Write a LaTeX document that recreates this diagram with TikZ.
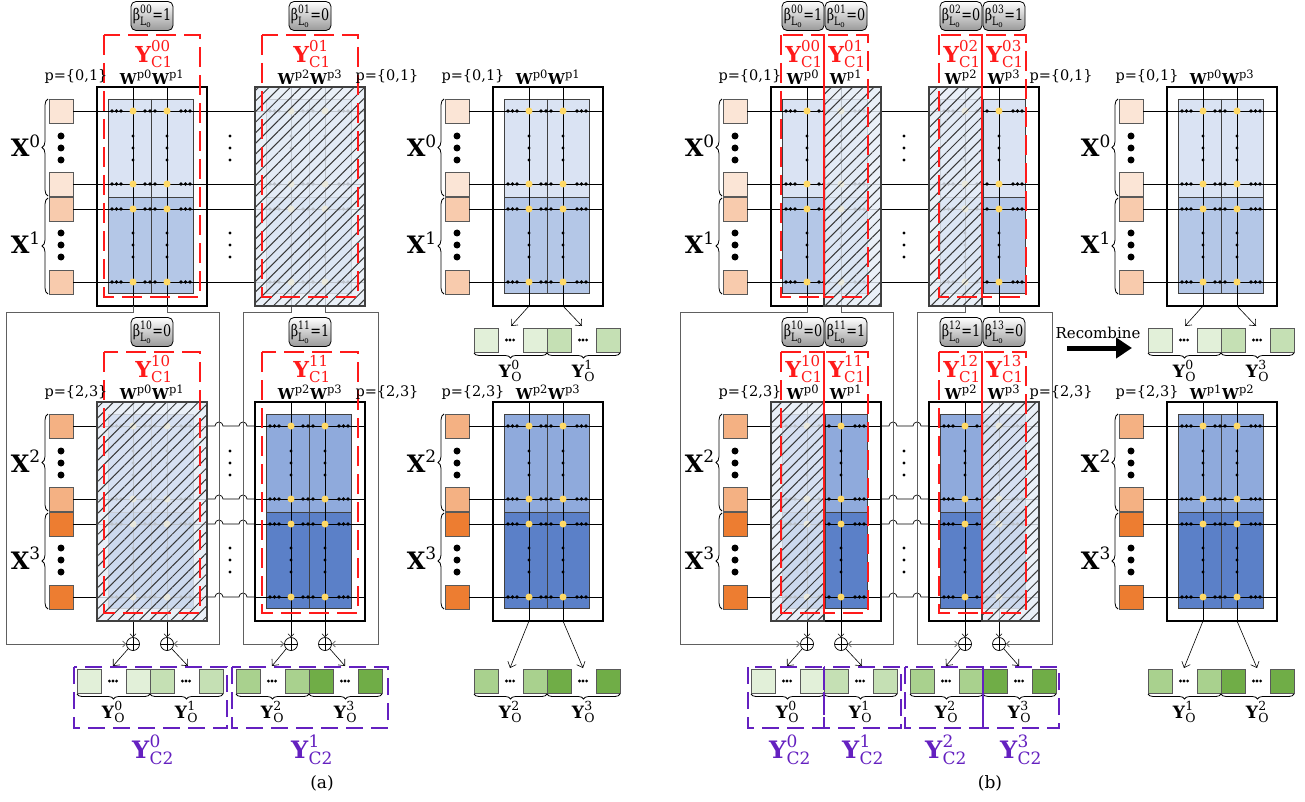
\documentclass[tikz,border=0pt]{standalone}
\usepackage{amsmath}
\usepackage{fontspec}
\setmainfont{DejaVu Serif}
\usetikzlibrary{arrows.meta,patterns.meta,decorations.pathreplacing}
\DeclareMathSizes{15}{15}{11.5}{9}
\DeclareMathSizes{22}{22}{15}{11}
\DeclareMathSizes{17}{17}{12.5}{10}
\DeclareMathSizes{24}{24}{17}{13}
\DeclareMathSizes{16}{16}{11.5}{9}
\definecolor{xa}{HTML}{FBE5D6}
\definecolor{xb}{HTML}{F8CBAD}
\definecolor{xc}{HTML}{F4B183}
\definecolor{xd}{HTML}{ED7D31}
\definecolor{ba}{HTML}{DAE3F3}
\definecolor{bb}{HTML}{B4C7E7}
\definecolor{bc}{HTML}{8FAADC}
\definecolor{bd}{HTML}{5B80C8}
\definecolor{yd}{HTML}{FFD966}
\definecolor{ga}{HTML}{E2F0D9}
\definecolor{gb}{HTML}{C5E0B4}
\definecolor{gc}{HTML}{A9D18E}
\definecolor{gd}{HTML}{70AD47}
\definecolor{rd}{HTML}{FF1A1A}
\definecolor{pu}{HTML}{6420C0}
\definecolor{hb}{HTML}{E6EDF7}
\definecolor{rl}{HTML}{606060}
\newcommand\fs[1]{\fontsize{#1}{#1}\selectfont}
\newcommand\Ylab[2]{$\text{\textbf{Y}}^{\text{#1}}_{\text{#2}}$}
\newcommand\Wlab[1]{$\text{\textbf{W}}^{\text{p#1}}$}
\newcommand\Blab[2]{\scalebox{0.8}[1]{$\text{β}^{\text{#1}}_{\text{L}_{\text{o}}}$=#2}}
\tikzset{
  outer/.style={draw=black, line width=2pt},
  inner/.style={draw=black!75, line width=0.6pt},
  rowl/.style={black, line width=0.7pt},
  coll/.style={black, line width=0.6pt},
  route/.style={rl, line width=0.8pt},
  sq/.style={draw=black!65, line width=0.7pt},
  rdash/.style={draw=rd, line width=2.6pt, dash pattern=on 20pt off 8pt},
  pdash/.style={draw=pu, line width=2.4pt, dash pattern=on 17pt off 8pt},
  betabox/.style={draw=black, line width=0.8pt, rounded corners=5pt, top color=white, bottom color=black!40, minimum width=42pt, minimum height=29pt, inner sep=0pt, font=\fs{16}},
  oplus/.style={circle, draw, line width=0.7pt, minimum size=13pt, inner sep=0pt,
     path picture={\draw[line width=0.7pt] (path picture bounding box.north) -- (path picture bounding box.south) (path picture bounding box.west) -- (path picture bounding box.east);}},
  arr/.style={-{Straight Barb[length=5pt,width=9pt]}, line width=0.6pt},
  intip/.style={-{Straight Barb[length=3pt,width=6pt]}},
  brc/.style={decorate, decoration={brace, amplitude=6pt}, line width=0.8pt},
  plab/.style={font=\fs{14.5}, inner sep=0pt},
  wlab/.style={font=\fs{15}, inner sep=0pt},
  ylab/.style={font=\fs{22}, text=rd, inner sep=0pt},
  yo/.style={font=\fs{17}, inner sep=0pt},
  yc/.style={font=\fs{24}, text=pu, inner sep=0pt},
  xl/.style={font=\fs{24}, inner sep=0pt},
}
% crossbar block
\newcommand\xbar[4]{%
\begin{scope}[shift={(#1,#2)}]
  \fill[#3] (11,12) rectangle (96,110);
  \fill[#4] (11,110) rectangle (96,206);
  \draw[inner] (11,12) rectangle (96,206) (11,110) -- (96,110) (54,12) -- (54,206);
  \foreach \ry in {24,97,122,195}{\draw[rowl] (0,\ry) -- (110,\ry);}
  \draw[coll] (36,0) -- (36,219) (70,0) -- (70,219);
  \foreach \ry in {24,97,122,195}{
    \foreach \dx in {15,19.5,24,48,53,58,84,88.5,93}{\fill (\dx,\ry) circle (1.8);}
    \fill[yd] (36,\ry) circle (3.5) (70,\ry) circle (3.5);
  }
  \foreach \vy in {49,61,73,146,158,170}{\fill (36,\vy) circle (1.7) (70,\vy) circle (1.7);}
  \draw[outer] (0,0) rectangle (110,219);
\end{scope}}
% inputs
\newcommand\xin[6]{%
\begin{scope}[shift={(#1,#2)}]
  \foreach \ry in {24,97}{\draw[sq, fill=#3] (-48,\ry-12) rectangle (-24,\ry+12);}
  \foreach \ry in {122,195}{\draw[sq, fill=#4] (-48,\ry-12) rectangle (-24,\ry+12);}
  \foreach \vy in {49,61,73,146,158,170}{\fill (-36,\vy) circle (3.5);}
  \foreach \ry in {24,97,122,195}{\draw[rowl] (-24,\ry) -- (0,\ry);}
  \draw[brc] (-49,109) -- (-49,12);
  \draw[brc] (-49,207) -- (-49,111);
  \node[xl, anchor=base east] at (-56,70) {\textbf{X}$^{\text{#5}}$};
  \node[xl, anchor=base east] at (-56,167) {\textbf{X}$^{\text{#6}}$};
\end{scope}}
% hatched overlay
\newcommand\hatchrect[4]{%
  \fill[hb, opacity=0.82] (#1,#2) rectangle (#3,#4);
  \fill[pattern={Lines[angle=45,distance=7.5pt,line width=1pt]}, pattern color=black!78] (#1,#2) rectangle (#3,#4);
  \draw[black!75, line width=1.6pt] (#1,#2) rectangle (#3,#4);}
% output group
\newcommand\og[4]{%
  \draw[sq, fill=#3] (#1,#2) rectangle ++(24,24);
  \draw[sq, fill=#3] ({#1+49},#2) rectangle ++(24,24);
  \foreach \dx in {-3.6,0,3.6}{\fill ({#1+36+\dx},{#2+12}) circle (1.6);}
  \draw[brc, decoration={amplitude=5pt}] ({#1+73},{#2+25}) -- (#1,{#2+25});
  \node[yo] at ({#1+36.5},{#2+43}) {#4};}
% routing between two block rows
\newcommand\routes[1]{%
\begin{scope}[shift={(#1,0)}]
  \foreach \ry in {111,184,209,282}{\draw[rowl] (110,\ry) -- (158,\ry);}
  \foreach \ry in {426,499,524,597}{\draw[rowl] (110,\ry) -- (118,\ry) arc[start angle=180,end angle=360,radius=4] -- (142,\ry) arc[start angle=180,end angle=360,radius=4] -- (158,\ry);}
  \foreach \vy in {136,148,160,233,245,257,451,463,475,548,560,572}{\fill (133,\vy) circle (1.7);}
  \node[oplus] (o1) at (36,644) {};
  \node[oplus] (o2) at (70,644) {};
  \node[oplus] (o3) at (194,644) {};
  \node[oplus] (o4) at (228,644) {};
  \draw[route,intip] (36,306) -- (36,312) -- (-91,312) -- (-91,644) -- (o1.west);
  \draw[route,intip] (70,306) -- (70,312) -- (122,312) -- (122,644) -- (o2.east);
  \draw[route,intip] (194,306) -- (194,312) -- (146,312) -- (146,644) -- (o3.west);
  \draw[route,intip] (228,306) -- (228,312) -- (281,312) -- (281,644) -- (o4.east);
  \draw[coll,intip] (36,621) -- (o1.north);
  \draw[coll,intip] (70,621) -- (o2.north);
  \draw[coll,intip] (194,621) -- (o3.north);
  \draw[coll,intip] (228,621) -- (o4.north);
  \draw[arr] (o1.-135) -- (16,666);
  \draw[arr] (o2.-45) -- (91,666);
  \draw[arr] (o3.-135) -- (175,666);
  \draw[arr] (o4.-45) -- (248,666);
\end{scope}}
\begin{document}
\begin{tikzpicture}[x=1pt,y=-1pt]
\useasboundingbox (0,0) rectangle (1305,802);
\fill[white] (0,0) rectangle (1305,802);
% ================= (a) =================
\xbar{97}{87}{ba}{bb}
\xbar{255}{87}{ba}{bb}
\xbar{97}{402}{bc}{bd}
\xbar{255}{402}{bc}{bd}
\xbar{493}{87}{ba}{bb}
\xbar{493}{402}{bc}{bd}
\xin{97}{87}{xa}{xb}{0}{1}
\xin{97}{402}{xc}{xd}{2}{3}
\xin{493}{87}{xa}{xb}{0}{1}
\xin{493}{402}{xc}{xd}{2}{3}
\routes{97}
\hatchrect{255}{87}{365}{306}
\hatchrect{97}{402}{207}{621}
\draw[rdash] (104,35) rectangle (200,297);
\draw[rdash] (262,35) rectangle (358,297);
\draw[rdash] (104,352) rectangle (200,613);
\draw[rdash] (262,352) rectangle (358,613);
\node[betabox] (ba00) at (152,16) {\Blab{00}{1}};
\node[betabox] (ba01) at (310,16) {\Blab{01}{0}};
\node[betabox] (ba10) at (152,332) {\Blab{10}{0}};
\node[betabox] (ba11) at (310,332) {\Blab{11}{1}};
\node[ylab] (ya00) at (154,54) {\Ylab{00}{C1}};
\node[ylab] (ya01) at (312,54) {\Ylab{01}{C1}};
\node[ylab] (ya10) at (154,369) {\Ylab{10}{C1}};
\node[ylab] (ya11) at (312,369) {\Ylab{11}{C1}};
\node[wlab] (wa1) at (152,77) {\Wlab{0}\Wlab{1}};
\node[wlab] (wa2) at (310,77) {\Wlab{2}\Wlab{3}};
\node[wlab] (wa3) at (152,392) {\Wlab{0}\Wlab{1}};
\node[wlab] (wa4) at (310,392) {\Wlab{2}\Wlab{3}};
\node[wlab] (wa5) at (548,77) {\Wlab{0}\Wlab{1}};
\node[wlab] (wa6) at (548,392) {\Wlab{2}\Wlab{3}};
\node[plab] (pa1) at (76,77) {p=\{0,1\}};
\node[plab] (pa2) at (387,77) {p=\{0,1\}};
\node[plab] (pa3) at (76,392) {p=\{2,3\}};
\node[plab] (pa4) at (387,392) {p=\{2,3\}};
\node[plab] (pa5) at (473,77) {p=\{0,1\}};
\node[plab] (pa6) at (473,392) {p=\{2,3\}};
\og{77}{669}{ga}{\Ylab{0}{O}}
\og{150}{669}{gb}{\Ylab{1}{O}}
\og{236}{669}{gc}{\Ylab{2}{O}}
\og{309}{669}{gd}{\Ylab{3}{O}}
\og{474}{328}{ga}{\Ylab{0}{O}}
\og{547}{328}{gb}{\Ylab{1}{O}}
\og{474}{669}{gc}{\Ylab{2}{O}}
\og{547}{669}{gd}{\Ylab{3}{O}}
\draw[arr] (529,306) -- (511,326);
\draw[arr] (563,306) -- (582,326);
\draw[arr] (529,621) -- (510,668);
\draw[arr] (563,621) -- (583,668);
\draw[pdash] (74,667) rectangle (227,728);
\draw[pdash] (232,667) rectangle (388,728);
\node[yc] (yca0) at (153,750) {\Ylab{0}{C2}};
\node[yc] (yca1) at (312,750) {\Ylab{1}{C2}};
\node[font=\fs{17}] (capa) at (322,783) {(a)};
% ================= (b) =================
\xbar{771}{87}{ba}{bb}
\xbar{929}{87}{ba}{bb}
\xbar{771}{402}{bc}{bd}
\xbar{929}{402}{bc}{bd}
\xbar{1167}{87}{ba}{bb}
\xbar{1167}{402}{bc}{bd}
\xin{771}{87}{xa}{xb}{0}{1}
\xin{771}{402}{xc}{xd}{2}{3}
\xin{1167}{87}{xa}{xb}{0}{1}
\xin{1167}{402}{xc}{xd}{2}{3}
\routes{771}
\hatchrect{824}{87}{881}{306}
\hatchrect{929}{87}{982}{306}
\hatchrect{771}{402}{824}{621}
\hatchrect{982}{402}{1039}{621}
\foreach \xa/\xb in {781/824,824/868,939/982,982/1026}{
  \draw[rdash] (\xa,35) rectangle (\xb,297);
  \draw[rdash] (\xa,352) rectangle (\xb,613);}
\draw[draw=rd, line width=2.6pt] (824,35) -- (824,297) (982,35) -- (982,297) (824,352) -- (824,613) (982,352) -- (982,613);
\node[betabox] (bb00) at (803,16) {\Blab{00}{1}};
\node[betabox] (bb01) at (846,16) {\Blab{01}{0}};
\node[betabox] (bb02) at (961,16) {\Blab{02}{0}};
\node[betabox] (bb03) at (1004,16) {\Blab{03}{1}};
\node[betabox] (bb10) at (803,332) {\Blab{10}{0}};
\node[betabox] (bb11) at (846,332) {\Blab{11}{1}};
\node[betabox] (bb12) at (961,332) {\Blab{12}{1}};
\node[betabox] (bb13) at (1004,332) {\Blab{13}{0}};
\node[ylab] (yb00) at (804,54) {\Ylab{00}{C1}};
\node[ylab] (yb01) at (847,54) {\Ylab{01}{C1}};
\node[ylab] (yb02) at (962,54) {\Ylab{02}{C1}};
\node[ylab] (yb03) at (1005,54) {\Ylab{03}{C1}};
\node[ylab] (yb10) at (804,369) {\Ylab{10}{C1}};
\node[ylab] (yb11) at (847,369) {\Ylab{11}{C1}};
\node[ylab] (yb12) at (962,369) {\Ylab{12}{C1}};
\node[ylab] (yb13) at (1005,369) {\Ylab{13}{C1}};
\node[wlab] (wb0) at (803,77) {\Wlab{0}};
\node[wlab] (wb1) at (846,77) {\Wlab{1}};
\node[wlab] (wb2) at (961,77) {\Wlab{2}};
\node[wlab] (wb3) at (1004,77) {\Wlab{3}};
\node[wlab] (wb4) at (803,392) {\Wlab{0}};
\node[wlab] (wb5) at (846,392) {\Wlab{1}};
\node[wlab] (wb6) at (961,392) {\Wlab{2}};
\node[wlab] (wb7) at (1004,392) {\Wlab{3}};
\node[wlab] (wb8) at (1222,77) {\Wlab{0}\Wlab{3}};
\node[wlab] (wb9) at (1222,392) {\Wlab{1}\Wlab{2}};
\node[plab] (pb1) at (750,77) {p=\{0,1\}};
\node[plab] (pb2) at (1061,77) {p=\{0,1\}};
\node[plab] (pb3) at (750,392) {p=\{2,3\}};
\node[plab] (pb4) at (1061,392) {p=\{2,3\}};
\node[plab] (pb5) at (1147,77) {p=\{0,1\}};
\node[plab] (pb6) at (1147,392) {p=\{2,3\}};
\og{751}{669}{ga}{\Ylab{0}{O}}
\og{824}{669}{gb}{\Ylab{1}{O}}
\og{910}{669}{gc}{\Ylab{2}{O}}
\og{983}{669}{gd}{\Ylab{3}{O}}
\og{1148}{328}{ga}{\Ylab{0}{O}}
\og{1221}{328}{gb}{\Ylab{3}{O}}
\og{1148}{669}{gc}{\Ylab{1}{O}}
\og{1221}{669}{gd}{\Ylab{2}{O}}
\draw[arr] (1203,306) -- (1185,326);
\draw[arr] (1237,306) -- (1256,326);
\draw[arr] (1203,621) -- (1184,668);
\draw[arr] (1237,621) -- (1257,668);
\draw[pdash] (748,667) rectangle (824,728);
\draw[pdash] (824,667) rectangle (901,728);
\draw[pdash] (905,667) rectangle (983,728);
\draw[pdash] (983,667) rectangle (1059,728);
\node[yc] (ycb0) at (790,750) {\Ylab{0}{C2}};
\node[yc] (ycb1) at (863,750) {\Ylab{1}{C2}};
\node[yc] (ycb2) at (946,750) {\Ylab{2}{C2}};
\node[yc] (ycb3) at (1021,750) {\Ylab{3}{C2}};
\node[font=\fs{17}] (capb) at (990,783) {(b)};
\node[font=\fs{15}, inner sep=0pt] (rec) at (1098,333) {Recombine};
\coordinate (ra) at (1067,348);
\coordinate (rb) at (1132,348);
\draw[line width=5pt, -{Triangle[length=16pt,width=20pt]}] (ra) -- (rb);
\end{tikzpicture}
\end{document}
